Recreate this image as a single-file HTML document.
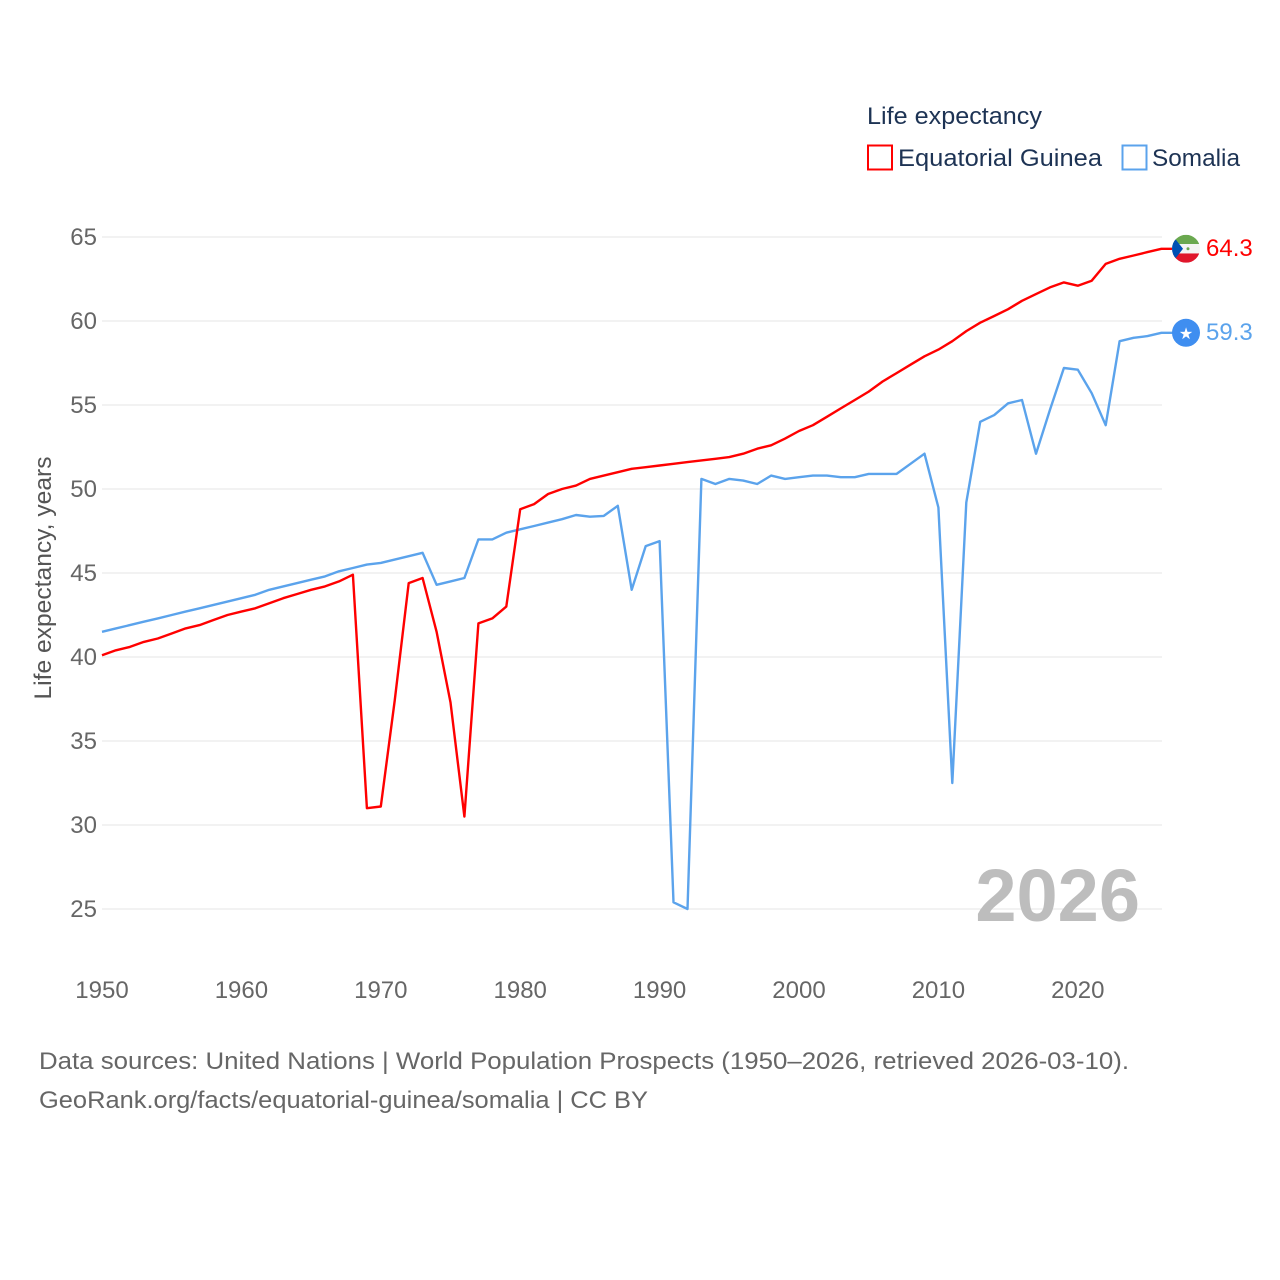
<!DOCTYPE html>
<html><head><meta charset="utf-8"><style>
html,body{margin:0;padding:0;background:#fff;}
svg{display:block;font-family:"Liberation Sans",sans-serif;}
</style></head><body>
<svg id="chart" width="1280" height="1280" viewBox="0 0 1280 1280" xmlns="http://www.w3.org/2000/svg">
<g>
<text x="867" y="124" font-size="24" fill="#1d3354" textLength="175" lengthAdjust="spacingAndGlyphs">Life expectancy</text>
<g>
<rect x="868" y="145.5" width="24" height="24" fill="none" stroke="#ff0000" stroke-width="2"/>
<text x="898" y="166" font-size="24" fill="#1d3354" textLength="204" lengthAdjust="spacingAndGlyphs">Equatorial Guinea</text></g>
<g>
<rect x="1122.5" y="145.5" width="24" height="24" fill="none" stroke="#5ba3ec" stroke-width="2"/>
<text x="1152" y="166" font-size="24" fill="#1d3354" textLength="88" lengthAdjust="spacingAndGlyphs">Somalia</text></g>
</g>
<g id="grid"></g>
<g id="yticks"></g>
<g id="xticks"></g>
<text transform="translate(51,578) rotate(-90)" text-anchor="middle" font-size="24" fill="#555" textLength="243" lengthAdjust="spacingAndGlyphs">Life expectancy, years</text>
<text x="1140" y="921" text-anchor="end" font-size="74" font-weight="bold" fill="#bdbdbd">2026</text>
<g id="series"></g>
<g id="endmarks"></g>
<text x="39" y="1069" font-size="24" fill="#666" textLength="1090" lengthAdjust="spacingAndGlyphs">Data sources: United Nations | World Population Prospects (1950–2026, retrieved 2026-03-10).</text>
<text x="39" y="1108" font-size="24" fill="#666" textLength="609" lengthAdjust="spacingAndGlyphs">GeoRank.org/facts/equatorial-guinea/somalia | CC BY</text>
</svg>
<script>
const startYear = 1950;
const yTicks = [25,30,35,40,45,50,55,60,65];
const xTicks = [1950,1960,1970,1980,1990,2000,2010,2020];
const eqGuinea = [40.1,40.4,40.6,40.9,41.1,41.4,41.7,41.9,42.2,42.5,42.7,42.9,43.2,43.5,43.75,44.0,44.2,44.5,44.9,31.0,31.1,37.4,44.4,44.7,41.5,37.3,30.5,42.0,42.3,43.0,48.8,49.1,49.7,50.0,50.2,50.6,50.8,51.0,51.2,51.3,51.4,51.5,51.6,51.7,51.8,51.9,52.1,52.4,52.6,53.0,53.45,53.8,54.3,54.8,55.3,55.8,56.4,56.9,57.4,57.9,58.3,58.8,59.4,59.9,60.3,60.7,61.2,61.6,62.0,62.3,62.1,62.4,63.4,63.7,63.9,64.1,64.3];
const somalia = [41.5,41.7,41.9,42.1,42.3,42.5,42.7,42.9,43.1,43.3,43.5,43.7,44.0,44.2,44.4,44.6,44.8,45.1,45.3,45.5,45.6,45.8,46.0,46.2,44.3,44.5,44.7,47.0,47.0,47.4,47.6,47.8,48.0,48.2,48.45,48.35,48.4,49.0,44.0,46.6,46.9,25.4,25.0,50.6,50.3,50.6,50.5,50.3,50.8,50.6,50.7,50.8,50.8,50.7,50.7,50.9,50.9,50.9,51.5,52.1,48.9,32.5,49.2,54.0,54.4,55.1,55.3,52.1,54.7,57.2,57.1,55.7,53.8,58.8,59.0,59.1,59.3];
const endLabels = ["64.3","59.3"];

const NS="http://www.w3.org/2000/svg";
const X0=102, XPY=13.94, Y65=237, PPU=16.8, XEND=1162;
const xs = yr => X0 + (yr-1950)*XPY;
const ys = v => Y65 + (65-v)*PPU;
function mk(tag, attrs, parent){const e=document.createElementNS(NS,tag);for(const k in attrs)e.setAttribute(k,attrs[k]);parent.appendChild(e);return e;}
const grid=document.getElementById('grid'), yg=document.getElementById('yticks'), xg=document.getElementById('xticks');
yTicks.forEach(t=>{
  const l=mk('line',{x1:X0,x2:XEND,y1:ys(t),y2:ys(t),stroke:'#e6e6e6','stroke-width':1},grid);
  
  
  const tx=mk('text',{x:97,y:ys(t)+8,'text-anchor':'end','font-size':24,fill:'#666'},yg);
  tx.textContent=t;
  
  
});
xTicks.forEach(t=>{
  const tx=mk('text',{x:xs(t),y:998,'text-anchor':'middle','font-size':24,fill:'#666'},xg);
  tx.textContent=t;
  
  
});
const sg=document.getElementById('series');
const cx=1186;
function line(arr,color,name){
  let d=arr.map((v,i)=>(i?'L':'M')+xs(startYear+i).toFixed(1)+','+ys(v).toFixed(1)).join('');
  d+='L'+cx+','+ys(arr[arr.length-1]).toFixed(1);
  const p=mk('path',{d:d,fill:'none',stroke:color,'stroke-width':2.4,'stroke-linejoin':'round'},sg);
  
  
}
line(somalia,'#5ba3ec','line-somalia');
line(eqGuinea,'#ff0000','line-equatorial-guinea');
const eg=document.getElementById('endmarks');
const yE=ys(eqGuinea[eqGuinea.length-1]);
const gE=mk('g',{},eg);


const cp=mk('clipPath',{id:'cpE'},gE); mk('circle',{cx:cx,cy:yE,r:14},cp);
const fg=mk('g',{'clip-path':'url(#cpE)'},gE);
mk('rect',{x:cx-14,y:yE-14,width:28,height:9.3,fill:'#6aa84f'},fg);
mk('rect',{x:cx-14,y:yE-4.7,width:28,height:9.4,fill:'#f4f4f4'},fg);
mk('rect',{x:cx-14,y:yE+4.7,width:28,height:9.3,fill:'#e0162b'},fg);
mk('polygon',{points:`${cx-14},${yE-14} ${cx-3},${yE} ${cx-14},${yE+14}`,fill:'#0050b4'},fg);
mk('circle',{cx:cx+2,cy:yE,r:1.5,fill:'#6aa84f'},fg);
const tE=mk('text',{x:1206,y:yE+7,'font-size':24,fill:'#ff0000'},eg);
tE.textContent=endLabels[0];


const yS=ys(somalia[somalia.length-1]);
const c2=mk('circle',{cx:cx,cy:yS,r:14,fill:'#3f8ef0'},eg);


const st=mk('text',{x:cx,y:yS+6,'text-anchor':'middle','font-size':16,fill:'#fff'},eg);
st.textContent='★';


const tS=mk('text',{x:1206,y:yS+7,'font-size':24,fill:'#5ba3ec'},eg);
tS.textContent=endLabels[1];


</script>
</body></html>
